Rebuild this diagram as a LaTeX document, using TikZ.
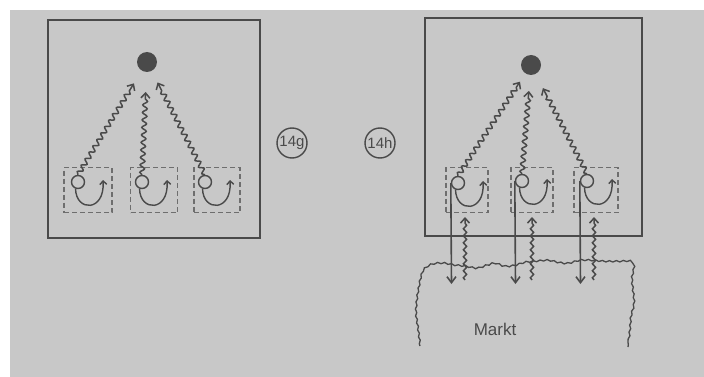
\documentclass[tikz,border=0pt]{standalone}
\usepackage{fontspec}
\setsansfont{Liberation Sans}
\usetikzlibrary{decorations.pathmorphing,arrows.meta,calc}
\definecolor{bg}{HTML}{C8C8C8}
\definecolor{ink}{HTML}{4A4A4A}
\tikzset{
  frame/.style={draw=ink, line width=2.2pt},
  dbox/.style={draw=ink!80, line width=1.4pt, dash pattern=on 5pt off 3pt, inner sep=0pt, minimum height=45pt},
  ring/.style={circle, draw=ink, line width=1.4pt, minimum size=13pt, inner sep=0pt},
  centre/.style={circle, fill=ink, minimum size=20pt, inner sep=0pt},
  wave/.style={draw=ink, line width=1.5pt, decorate,
    decoration={snake, amplitude=2.3pt, segment length=7.5pt, post length=6pt},
    -{Straight Barb[length=5pt,width=9pt,line width=1.5pt]}},
  loopar/.style={draw=ink, line width=1.4pt, -{Straight Barb[length=3.5pt,width=7pt]}},
  downar/.style={draw=ink, line width=1.6pt, -{Straight Barb[length=6pt,width=9pt]}},
  tag/.style={circle, draw=ink, line width=1.4pt, minimum size=30pt, inner sep=0pt, text=ink, font=\sffamily\fontsize{15}{15}\selectfont},
  border/.style={draw=ink, line width=1.3pt}
}
\newcommand{\selfloop}[1]{\draw[loopar] (#1.250) .. controls ($(#1)+(-2,30)$) and ($(#1)+(27,30)$) .. ($(#1)+(25,-2)$);}
\begin{document}
\begin{tikzpicture}[x=1pt,y=-1pt]
\fill[white] (0,0) rectangle (704,377);
\fill[bg] (10,10) rectangle (704,377);
\useasboundingbox (0,0) rectangle (704,377);

% ---------- left panel (14g)
\draw[frame] (48,20) rectangle (260,238);
\node[centre] (d1) at (147,62) {};
\node[dbox, minimum width=48pt] (b1) at (88,190) {};
\node[dbox, minimum width=47pt] (b2) at (154,190) {};
\node[dbox, minimum width=46pt] (b3) at (217,190) {};
\node[ring] (c1) at (78,182) {};
\node[ring] (c2) at (142,182) {};
\node[ring] (c3) at (205,182) {};
\selfloop{c1}\selfloop{c2}\selfloop{c3}
\draw[wave] (c1.north) -- ($(d1)!25pt!(c1.north)$);
\draw[wave] (c2.north) -- ($(d1)!30pt!(c2.north)$);
\draw[wave] (c3.north) -- ($(d1)!23pt!(c3.north)$);

\node[tag] (t1) at (292,143) {14g};
\node[tag] (t2) at (380,143) {14h};

% ---------- right panel (14h)
\draw[frame] (425,18) rectangle (642,236);
\node[centre] (d2) at (531,65) {};
\node[dbox, minimum width=42pt] (b4) at (467,190) {};
\node[dbox, minimum width=42pt] (b5) at (532,190) {};
\node[dbox, minimum width=44pt] (b6) at (596,190) {};
\node[ring] (c4) at (458,183) {};
\node[ring] (c5) at (522,181) {};
\node[ring] (c6) at (587,181) {};
\selfloop{c4}\selfloop{c5}\selfloop{c6}
\draw[wave] (c4.north) -- ($(d2)!20pt!(c4.north)$);
\draw[wave] (c5.north) -- ($(d2)!26pt!(c5.north)$);
\draw[wave] (c6.north) -- ($(d2)!26pt!(c6.north)$);

% market exchange arrows
\coordinate (m1) at (451.5,284);
\coordinate (m2) at (515.5,284);
\coordinate (m3) at (580.5,284);
\coordinate (u1) at (465,280);
\coordinate (u2) at (532,280);
\coordinate (u3) at (594,280);
\coordinate (v1) at (465,217);
\coordinate (v2) at (532,217);
\coordinate (v3) at (594,217);
\draw[downar] (c4.west) -- (m1);
\draw[downar] (c5.west) -- (m2);
\draw[downar] (c6.west) -- (m3);
\draw[wave, decoration={snake, amplitude=1.6pt, segment length=7pt, post length=6pt}] (u1) -- (v1);
\draw[wave, decoration={snake, amplitude=1.6pt, segment length=7pt, post length=6pt}] (u2) -- (v2);
\draw[wave, decoration={snake, amplitude=1.6pt, segment length=7pt, post length=6pt}] (u3) -- (v3);

% market region
\draw[border, decorate, decoration={snake, amplitude=0.7pt, segment length=7pt}]
  plot[smooth, tension=0.6] coordinates {
  (420,346) (418,330) (416,315) (417,300) (419,288) (421,278) (424,271) (432,266)
  (443,265) (455,267) (465,268) (477,270) (487,267) (495,265) (505,268) (515,267)
  (525,264) (535,263) (548,262) (558,264) (568,265) (580,262) (592,262) (605,263)
  (620,263) (631,263) (634,268) (632,280) (633,292) (634,305) (631,318) (630,330) (628,347)};
\node[text=ink, font=\sffamily\fontsize{17}{17}\selectfont] (mk) at (495,329) {Markt};
\end{tikzpicture}
\end{document}
